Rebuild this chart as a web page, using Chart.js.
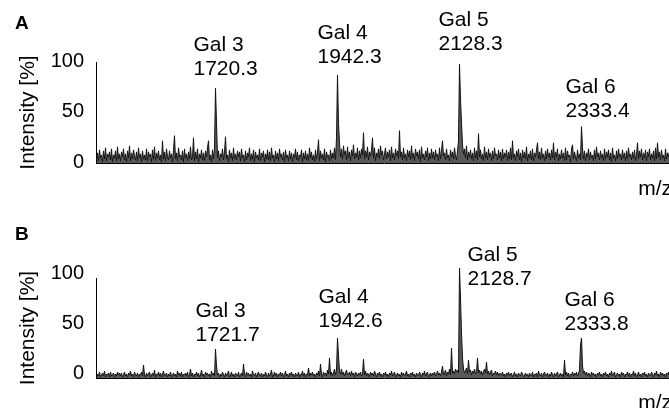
<!DOCTYPE html>
<html><head><meta charset="utf-8">
<script src="https://cdn.jsdelivr.net/npm/chart.js@4.4.1/dist/chart.umd.min.js"></script>
<style>
html,body{margin:0;padding:0;background:#fff;overflow:hidden;width:669px;height:408px;}
#ca{position:absolute;left:0;top:0;}
#cb{position:absolute;left:0;top:204px;}
</style></head><body>
<canvas id="ca" width="672" height="204"></canvas>
<canvas id="cb" width="672" height="216"></canvas>
<script>
// Spectrum A: relative intensity (%) per channel (channel index on x)
const spectrumA = [
 3,10,2,13,5,8,1,12,4,15,2,9,6,11,3,14,1,8,5,12,2,16,4,9,
 2,11,6,14,3,9,1,12,5,17,2,10,4,13,7,3,11,2,15,5,9,1,12,4,
 8,3,14,2,11,6,9,1,13,4,16,2,10,5,12,3,8,1,22,4,11,2,14,6,
 3,12,5,9,1,13,27,4,10,2,15,6,8,3,12,1,14,5,9,2,11,4,16,3,
 6,25,2,11,4,14,1,9,5,13,3,10,2,12,6,15,22,3,8,1,13,4,15,74,
 40,5,12,2,9,6,14,3,11,26,4,8,1,13,5,10,2,15,4,9,3,12,6,11,
 2,14,5,8,1,12,3,10,6,15,2,9,4,13,1,11,5,8,3,14,2,10,6,12,
 1,9,4,13,3,11,2,15,5,8,1,12,4,10,2,14,6,9,3,11,1,13,5,8,
 2,12,4,10,1,9,5,14,3,11,2,8,6,13,1,10,4,12,3,9,2,15,5,11,
 3,8,1,13,4,10,23,2,12,5,9,3,14,1,11,6,8,2,13,4,10,5,15,3,
 25,87,39,20,6,14,4,17,8,12,3,16,5,11,2,13,7,18,4,10,6,15,3,12,
 5,14,8,30,4,12,6,16,3,11,7,13,25,5,15,2,10,6,14,4,17,8,12,3,
 9,15,4,11,6,13,2,16,5,10,3,14,7,12,4,32,6,11,3,15,5,9,2,13,
 6,12,3,17,5,10,2,14,7,11,4,13,1,16,5,9,3,12,6,15,2,10,4,14,
 5,11,3,13,6,9,2,15,4,12,22,7,10,3,14,5,8,2,13,6,11,4,15,7,
 3,12,22,98,63,40,18,9,14,5,17,3,11,6,13,4,10,2,15,5,12,3,29,6,
 13,4,9,2,16,5,11,3,14,6,10,2,12,4,15,7,9,3,13,5,11,2,14,4,
 10,6,13,2,11,4,15,3,22,5,9,2,12,6,14,3,10,1,13,5,11,4,16,2,
 9,5,12,3,14,2,10,6,13,20,4,11,3,15,5,9,2,12,4,14,6,10,3,13,
 5,20,3,11,6,14,2,9,4,13,5,10,2,15,3,12,6,8,1,14,18,4,11,6,
 2,13,5,9,3,36,15,4,12,2,10,6,14,3,11,5,8,2,13,4,16,6,10,3,
 12,5,9,2,14,4,11,6,13,3,10,1,15,5,8,2,12,4,14,6,9,3,13,5,
 10,2,12,4,15,6,9,3,11,5,13,2,8,20,4,12,6,14,3,10,5,13,2,11,
 6,14,3,9,5,12,2,15,4,20,6,11,3,13,5,8,2,14,4,10,6,12,3,11
];
// Spectrum B
const spectrumB = [
 1,4,2,6,1,3,5,2,7,1,4,3,5,1,6,2,3,5,1,4,2,6,3,5,
 2,5,1,3,6,2,4,1,5,3,7,2,4,1,6,3,2,5,1,4,3,6,2,13,
 3,1,5,2,4,6,1,3,5,2,8,1,4,3,6,2,5,1,4,7,2,3,5,1,
 4,2,6,1,3,5,2,4,1,7,3,5,2,6,1,4,3,5,2,6,1,3,9,2,
 5,1,4,3,6,2,5,1,3,8,2,4,1,6,3,5,2,4,1,7,3,5,2,29,
 12,3,5,1,4,2,6,3,1,5,2,4,7,1,3,6,2,4,1,5,3,2,6,1,
 3,5,2,14,4,1,6,3,5,2,4,1,7,3,2,5,1,4,6,2,3,5,1,4,
 2,6,3,1,5,2,4,8,1,3,6,2,5,1,4,3,6,2,5,1,3,7,2,4,
 1,5,3,6,2,4,1,5,3,2,6,1,4,3,7,2,5,1,4,3,10,2,5,3,
 6,2,4,1,5,3,7,2,14,4,1,6,3,5,2,8,4,20,3,6,2,5,9,3,
 8,40,22,7,4,9,3,6,2,5,8,3,4,6,2,7,3,5,1,6,4,2,5,3,
 6,2,4,19,3,7,2,5,4,1,6,3,5,2,7,4,1,5,3,6,2,4,1,5,
 3,6,2,4,1,5,3,7,2,4,6,1,3,5,2,4,1,6,3,5,2,4,7,2,
 4,1,5,3,6,2,4,1,5,3,2,6,4,1,5,3,7,2,4,6,1,3,5,2,
 5,3,6,2,4,7,3,5,2,6,12,3,5,8,2,6,4,9,3,30,5,7,4,9,
 6,8,5,110,80,45,20,9,5,7,10,4,18,6,8,3,7,5,9,4,6,20,5,8,
 4,7,3,6,9,5,16,4,7,3,6,8,2,5,4,7,3,6,2,5,4,3,6,2,
 4,1,5,3,6,2,4,5,1,3,6,2,4,1,5,3,2,6,4,1,3,5,2,4,
 1,5,3,2,6,1,4,3,5,1,7,3,2,5,1,4,6,2,3,5,1,4,2,6,
 3,1,5,2,4,6,1,3,5,2,4,1,18,3,6,2,5,1,4,3,6,2,5,3,
 6,2,4,8,33,40,12,5,7,3,6,2,5,4,1,6,3,5,2,4,1,5,3,6,
 2,4,1,5,3,6,2,4,1,5,3,7,2,4,6,1,3,5,2,4,1,6,3,5,
 1,4,3,6,2,5,1,4,3,7,2,5,1,3,6,2,4,1,5,3,6,2,4,1,
 5,3,2,6,4,1,5,3,7,2,4,1,6,3,5,2,4,1,5,3,6,2,4,3
];
const yTickValues = [0, 50, 100];
const yTickLabels = ['0', '50', '100'];
const peakChannels = [119, 241, 363, 485];
const peakNames = ['Gal 3', 'Gal 4', 'Gal 5', 'Gal 6'];
const peakMassesA = ['1720.3', '1942.3', '2128.3', '2333.4'];
const peakMassesB = ['1721.7', '1942.6', '2128.7', '2333.8'];

const FONT = '"Liberation Sans", Arial, Helvetica, sans-serif';

const annot = {
  id: 'annot',
  afterDraw(chart, args, o) {
    const ctx = chart.ctx, xs = chart.scales.x;
    ctx.save();
    ctx.fillStyle = '#000';
    ctx.textBaseline = 'middle';
    ctx.textAlign = 'left';
    ctx.font = 'bold 19px ' + FONT;
    ctx.fillText(o.letter, 15, o.letterY);
    ctx.font = '21px ' + FONT;
    peakNames.forEach((n, k) => {
      const x = xs.getPixelForValue(peakChannels[k]) + o.dx[k];
      ctx.fillText(n, x, o.y[k]);
      ctx.fillText(o.masses[k], x, o.y[k] + 24);
    });
    ctx.restore();
  }
};

function makeChart(id, data, cfg) {
  return new Chart(document.getElementById(id), {
    type: 'line',
    data: { datasets: [{
      data: data.map((v, i) => ({ x: i, y: v })),
      borderColor: '#111', borderWidth: 1, pointRadius: 0, tension: 0,
      fill: 'origin', backgroundColor: 'rgba(0,0,0,0.65)', clip: false
    }] },
    options: {
      responsive: false, animation: false, events: [],
      layout: { padding: { top: cfg.top, left: 0, right: 0, bottom: 0 } },
      plugins: { legend: { display: false }, tooltip: { enabled: false }, annot: cfg.annot },
      scales: {
        x: {
          type: 'linear', min: -0.5, max: spectrumA.length - 0.5,
          grid: { display: false, drawTicks: false },
          border: { display: true, color: '#000', width: 1 },
          ticks: { display: false },
          title: { display: true, text: 'm/z', align: 'end', color: '#000',
                   font: { family: FONT, size: 21 }, padding: { top: 0, bottom: cfg.titlePad } },
          afterFit: s => { s.height = cfg.xh; }
        },
        y: {
          min: 0, max: 100,
          grid: { display: false, drawTicks: false },
          border: { display: true, color: '#000', width: 1 },
          afterBuildTicks: s => { s.ticks = yTickValues.map(v => ({ value: v })); },
          ticks: { color: '#000', padding: 12, labelOffset: cfg.labelOffset,
                   font: { family: FONT, size: 20 },
                   callback: (v) => yTickLabels[yTickValues.indexOf(v)] },
          title: { display: true, text: 'Intensity [%]', color: '#000',
                   font: { family: FONT, size: 21 }, padding: { top: 16, bottom: 0 } },
          afterFit: s => { s.width = 96; }
        }
      }
    },
    plugins: [annot]
  });
}

makeChart('ca', spectrumA, {
  top: 62, xh: 41, titlePad: 2, labelOffset: -1,
  annot: { letter: 'A', letterY: 24, masses: peakMassesA,
           dx: [-22, -20, -21, -16], y: [45, 33, 20, 87] }
});
makeChart('cb', spectrumB, {
  top: 74, xh: 42, titlePad: 4, labelOffset: -5,
  annot: { letter: 'B', letterY: 31, masses: peakMassesB,
           dx: [-20, -19, 8, -17], y: [107, 93, 51, 96] }
});
</script>
</body></html>
